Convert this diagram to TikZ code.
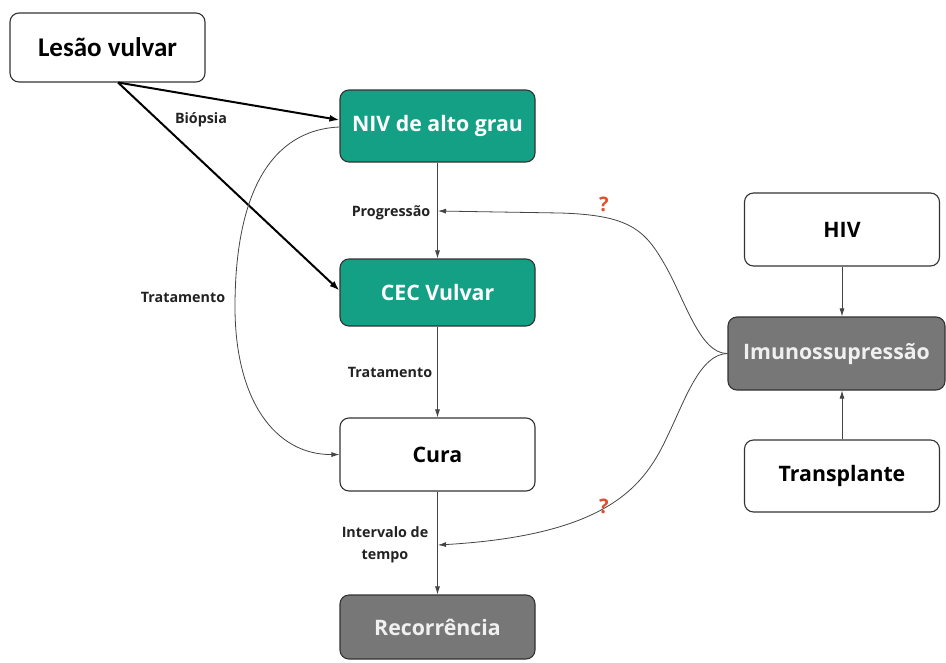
\documentclass[tikz,border=0pt]{standalone}
\usepackage{fontspec}
\setmainfont{Open Sans}
\newfontfamily\carl{Carlito}
\usetikzlibrary{arrows.meta}
\definecolor{tealbox}{HTML}{14A085}
\definecolor{graybox}{HTML}{777777}
\definecolor{boxline}{HTML}{333333}
\definecolor{lbltext}{HTML}{222222}
\definecolor{qred}{HTML}{E0502E}
\definecolor{thinline}{HTML}{444444}
\begin{document}
\begin{tikzpicture}[x=1pt,y=-1pt,
  box/.style={draw=boxline, line width=1.1pt, rounded corners=9pt, minimum width=195pt, minimum height=71pt, inner sep=0pt, align=center, font=\bfseries\fontsize{21.3}{25}\selectfont},
  whitebox/.style={fill=white, text=black},
  greenbox/.style={fill=tealbox, text=white},
  darkbox/.style={fill=graybox, text=white!94!black},
  lbl/.style={font=\bfseries\fontsize{14.3}{22}\selectfont, text=lbltext, inner sep=1pt, align=center},
  qm/.style={font=\bfseries\fontsize{20}{24}\selectfont, text=qred},
  thinarrow/.style={draw=thinline, line width=0.8pt, -{Latex[length=8pt,width=5pt]}},
  thickarrow/.style={draw=black, line width=2pt, -{Latex[length=10pt,width=7pt]}}]
\useasboundingbox (0,0) rectangle (946,662);
\fill[white] (0,0) rectangle (946,662);

\node[box,whitebox,minimum height=69pt,font=\carl\bfseries\fontsize{27}{30}\selectfont] (les) at (107.5,47.5) {Lesão vulvar};
\node[box,greenbox,minimum height=72pt] (niv) at (437.5,126) {NIV de alto grau};
\node[box,greenbox,minimum height=67pt] (cec) at (437.5,292.5) {CEC Vulvar};
\node[box,whitebox,minimum height=73pt] (cura) at (437.5,454.5) {Cura};
\node[box,darkbox,minimum height=64pt] (rec) at (437.5,627) {Recorrência};
\node[box,whitebox,minimum height=73pt] (hiv) at (842,229.5) {HIV};
\node[box,darkbox,minimum width=217pt,minimum height=73pt] (imu) at (836.5,353.5) {Imunossupressão};
\node[box,whitebox,minimum height=72pt] (tra) at (842,476) {Transplante};

\coordinate (bstart) at (118,82.5);
\coordinate (pq) at (438,211);
\coordinate (iq) at (438,545);

\draw[thickarrow] (bstart) -- ([yshift=6pt]niv.west);
\draw[thickarrow] (bstart) -- ([yshift=2pt]cec.west);

\draw[thinarrow] (niv) -- (cec);
\draw[thinarrow] (cec) -- (cura);
\draw[thinarrow] (cura) -- (rec);
\draw[thinarrow] (hiv.south) -- (hiv.south |- imu.north);
\draw[thinarrow] (tra.north) -- (tra.north |- imu.south);

\draw[thinarrow] ([yshift=-1pt]niv.west) .. controls (270,130) and (235,195) .. (235,307) .. controls (235,400) and (275,455) .. (cura.west);

\draw[thinarrow] (imu.west) .. controls (700,354) and (685,300) .. (665,265) .. controls (645,230) and (630,215) .. (560,213) -- (pq);
\draw[thinarrow] (imu.west) .. controls (700,354) and (685,400) .. (668,435) .. controls (645,485) and (610,535) .. (iq);

\node[lbl] (lbio) at (201,120) {Biópsia};
\node[lbl] (lprog) at (391,213) {Progressão};
\node[lbl] (ltr1) at (390,372) {Tratamento};
\node[lbl] (lint) at (385,545) {Intervalo de\\tempo};
\node[lbl] (ltr2) at (183,297) {Tratamento};
\node[qm] (q1) at (604,204) {?};
\node[qm] (q2) at (604,506) {?};
\end{tikzpicture}
\end{document}
